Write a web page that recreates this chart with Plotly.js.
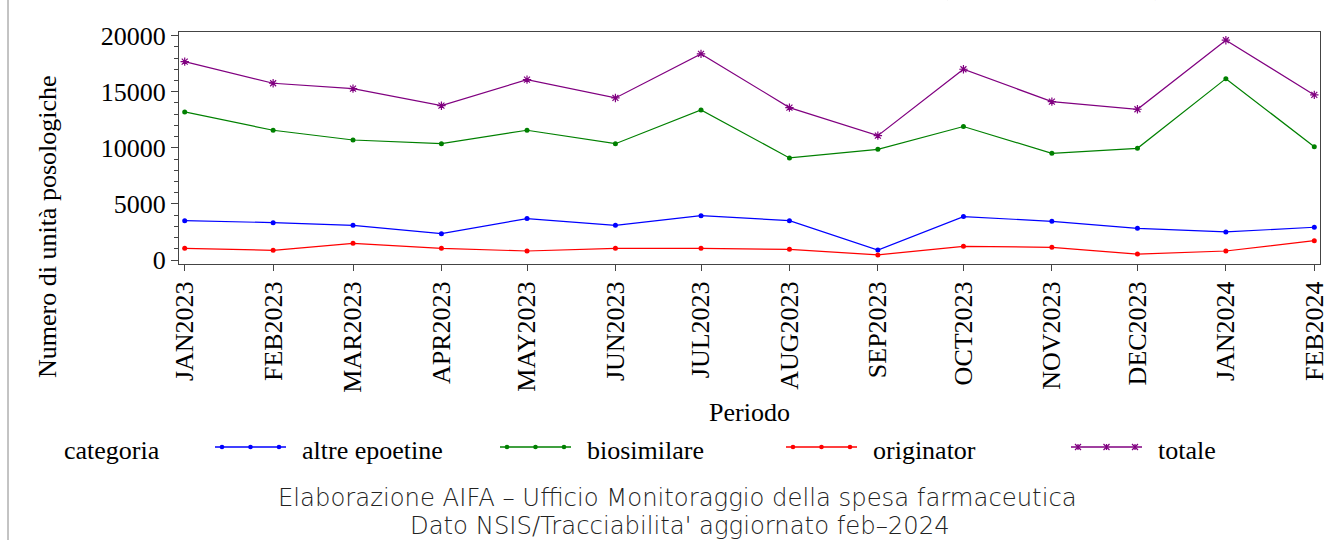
<!DOCTYPE html>
<html>
<head>
<meta charset="utf-8">
<script src="https://cdn.plot.ly/plotly-3.0.1.min.js"></script>
<style>
html,body{margin:0;padding:0;background:#fff;}
#chart{width:1336px;height:540px;}
</style>
</head>
<body>
<div id="chart"></div>
<script>
// ---- data ----
var periods = ['2023-01-01','2023-02-01','2023-03-01','2023-04-01','2023-05-01','2023-06-01','2023-07-01','2023-08-01','2023-09-01','2023-10-01','2023-11-01','2023-12-01','2024-01-01','2024-02-01'];
var tickLabels = ['JAN2023','FEB2023','MAR2023','APR2023','MAY2023','JUN2023','JUL2023','AUG2023','SEP2023','OCT2023','NOV2023','DEC2023','JAN2024','FEB2024'];
var altreEpoetine = [3510, 3330, 3090, 2350, 3690, 3090, 3950, 3510, 890, 3870, 3450, 2820, 2500, 2920];
var biosimilare   = [13200, 11570, 10700, 10370, 11570, 10370, 13380, 9100, 9870, 11900, 9510, 9960, 16170, 10100];
var originator    = [1040, 860, 1490, 1040, 800, 1040, 1040, 950, 450, 1220, 1130, 530, 800, 1720];
var totale        = [17690, 15760, 15280, 13760, 16080, 14450, 18380, 13590, 11090, 17010, 14120, 13440, 19600, 14720];
var seriesNames = ['altre epoetine','biosimilare','originator','totale'];
var yTickVals = [0, 5000, 10000, 15000, 20000];
var yTickText = ['0', '5000', '10000', '15000', '20000'];

// ---- styles ----
var seriesColors = ['#0000ff', '#008000', '#ff0000', '#800080'];
var seriesSymbols = ['circle', 'circle', 'circle', 'asterisk-open'];

// ---- layout helpers ----
var W = 1336, H = 540;
var M = {l:179, r:16, t:32, b:276};
var PW = W - M.l - M.r, PH = H - M.t - M.b;
function px(x){ return (x - M.l) / PW; }
function py(y){ return (H - M.b - y) / PH; }

var serif = 'Liberation Serif';
var seriesValues = [altreEpoetine, biosimilare, originator, totale];
var traces = seriesValues.map(function(vals, i){
  var sym = seriesSymbols[i];
  return {
    x: periods, y: vals, name: seriesNames[i], type: 'scatter', mode: 'lines+markers',
    showlegend: false,
    line: {color: seriesColors[i], width: 1.2},
    marker: {color: seriesColors[i], symbol: sym, size: sym === 'circle' ? 5 : 7,
             line: {color: seriesColors[i], width: sym === 'circle' ? 0 : 1.2}}
  };
});

// ---- custom legend (SAS style: line sample with three markers) ----
var legendStart = [215, 500, 786, 1071];
var legendY = 447, sampleLen = 71;
var shapes = [
  {type: 'line', xref: 'paper', yref: 'paper', x0: px(8), x1: px(8), y0: py(-5), y1: py(545), line: {color: '#888', width: 1}}
];
var annotations = [];
seriesNames.forEach(function(name, i){
  var x0 = legendStart[i], c = seriesColors[i];
  shapes.push({type: 'line', xref: 'paper', yref: 'paper', x0: px(x0), x1: px(x0 + sampleLen), y0: py(legendY), y1: py(legendY), line: {color: c, width: 1.5}});
  [7, 35.5, 64].forEach(function(o){
    var cx = x0 + o;
    if (seriesSymbols[i] === 'circle') {
      shapes.push({type: 'circle', xref: 'paper', yref: 'paper', x0: px(cx - 2.3), x1: px(cx + 2.3), y0: py(legendY - 2.3), y1: py(legendY + 2.3), fillcolor: c, line: {color: c, width: 0}});
    } else {
      var r = 3;
      var p = 'M' + px(cx - r) + ',' + py(legendY - r) + 'L' + px(cx + r) + ',' + py(legendY + r) +
              'M' + px(cx - r) + ',' + py(legendY + r) + 'L' + px(cx + r) + ',' + py(legendY - r) +
              'M' + px(cx) + ',' + py(legendY - r) + 'L' + px(cx) + ',' + py(legendY + r);
      shapes.push({type: 'path', xref: 'paper', yref: 'paper', path: p, line: {color: c, width: 1.2}});
    }
  });
  annotations.push({text: name, xref: 'paper', yref: 'paper', x: px(x0 + sampleLen + 14), y: py(450), xanchor: 'left', yanchor: 'middle', showarrow: false, font: {family: serif, size: 26, color: '#000'}});
});

annotations = annotations.concat([
  {text: '(unità posologiche)', xref: 'paper', yref: 'paper', x: px(1051), y: py(-15), xanchor: 'center', yanchor: 'middle', showarrow: false, font: {family: serif, size: 29, color: '#000'}},
  {text: 'Numero di unità posologiche', xref: 'paper', yref: 'paper', x: px(48), y: py(227), xanchor: 'center', yanchor: 'middle', textangle: -90, showarrow: false, font: {family: serif, size: 26, color: '#000'}},
  {text: 'Periodo', xref: 'paper', yref: 'paper', x: px(749.5), y: py(412), xanchor: 'center', yanchor: 'middle', showarrow: false, font: {family: serif, size: 26, color: '#000'}},
  {text: 'categoria', xref: 'paper', yref: 'paper', x: px(62), y: py(450), xanchor: 'left', yanchor: 'middle', showarrow: false, font: {family: serif, size: 26, color: '#000'}},
  {text: 'Elaborazione AIFA – Ufficio Monitoraggio della spesa farmaceutica', xref: 'paper', yref: 'paper', x: px(677), y: py(497), xanchor: 'center', yanchor: 'middle', showarrow: false, font: {family: 'DejaVu Sans', size: 24.3, weight: 200, color: '#222'}},
  {text: "Dato NSIS/Tracciabilita' aggiornato feb–2024", xref: 'paper', yref: 'paper', x: px(680), y: py(525), xanchor: 'center', yanchor: 'middle', showarrow: false, font: {family: 'DejaVu Sans', size: 24.3, weight: 200, color: '#222'}}
]);

var layout = {
  width: W, height: H,
  margin: M,
  paper_bgcolor: '#fff', plot_bgcolor: '#fff',
  font: {family: serif, size: 26, color: '#000'},
  showlegend: false,
  xaxis: {
    type: 'date', range: ['2022-12-30', '2024-02-03'],
    tickmode: 'array', tickvals: periods, ticktext: tickLabels,
    tickangle: -90, ticks: 'outside', ticklen: 6, tickcolor: '#444', tickwidth: 1,
    showgrid: false, zeroline: false,
    showline: true, linecolor: '#444', linewidth: 1, mirror: true,
    tickfont: {family: serif, size: 26, color: '#000'}
  },
  yaxis: {
    range: [-357, 20330],
    tickmode: 'array', tickvals: yTickVals, ticktext: yTickText,
    ticks: 'outside', ticklen: 7, tickcolor: '#444', tickwidth: 1,
    minor: {dtick: 1000, tick0: 0, ticks: 'outside', ticklen: 4, tickcolor: '#444', tickwidth: 1, showgrid: false},
    showgrid: false, zeroline: false,
    showline: true, linecolor: '#444', linewidth: 1, mirror: true,
    tickfont: {family: serif, size: 26, color: '#000'}
  },
  annotations: annotations,
  shapes: shapes
};

Plotly.newPlot('chart', traces, layout, {displayModeBar: false, staticPlot: true});
</script>
</body>
</html>
